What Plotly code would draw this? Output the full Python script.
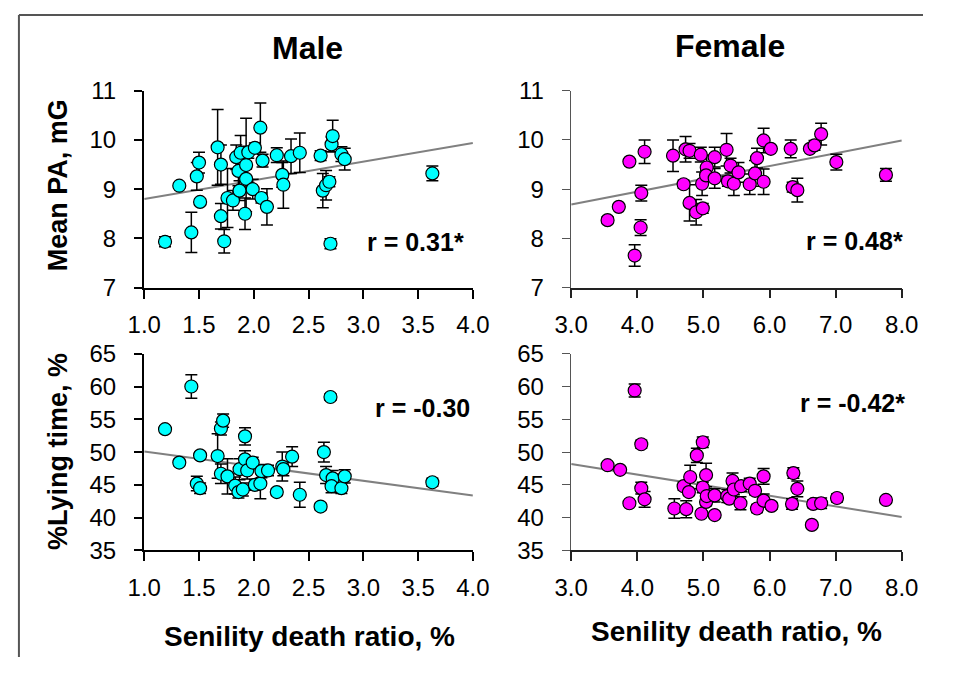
import plotly.graph_objects as go

# ---------------- data ----------------
male_pa_x = [1.19, 1.32, 1.43, 1.50, 1.48, 1.51, 1.67, 1.70, 1.70, 1.73, 1.76, 1.81, 1.84, 1.86,
             1.87, 1.88, 1.92, 1.93, 1.93, 1.95, 1.99, 2.01, 2.06, 2.08, 2.07, 2.12, 2.21, 2.26,
             2.27, 2.34, 2.42, 2.61, 2.63, 2.66, 2.69, 2.70, 2.71, 2.72, 2.80, 2.83, 3.63]
male_pa_y = [7.93, 9.07, 8.12, 9.54, 9.26, 8.74, 9.85, 9.50, 8.45, 7.94, 8.82, 8.77, 9.65, 9.37,
             8.97, 9.74, 8.50, 9.49, 9.21, 9.75, 9.00, 9.84, 10.25, 9.58, 8.82, 8.64, 9.69, 9.29,
             9.09, 9.67, 9.74, 9.68, 8.97, 9.08, 9.15, 7.89, 9.91, 10.08, 9.71, 9.61, 9.32]
male_pa_err = [0.10, 0.05, 0.41, 0.21, 0.28, 0.06, 0.77, 0.40, 0.26, 0.24, 0.60, 0.20, 0.25, 0.30,
               0.20, 0.35, 0.32, 0.95, 0.20, 0.12, 0.20, 0.10, 0.50, 0.13, 0.10, 0.37, 0.15, 0.25,
               0.48, 0.35, 0.40, 0.10, 0.35, 0.30, 0.10, 0.10, 0.15, 0.32, 0.15, 0.22, 0.15]

female_pa_x = [3.55, 3.72, 3.88, 4.11, 4.06, 4.05, 3.96, 4.54, 4.70, 4.73, 4.79, 4.79, 4.89, 4.96,
               4.99, 4.98, 5.05, 5.04, 5.17, 5.17, 5.35, 5.41, 5.37, 5.46, 5.53, 5.70, 5.78, 5.81,
               5.91, 5.91, 6.02, 6.32, 6.35, 6.42, 6.61, 6.68, 6.78, 7.01, 7.76]
female_pa_y = [8.37, 8.64, 9.56, 9.76, 8.92, 8.22, 7.65, 9.68, 9.10, 9.81, 9.78, 8.72, 8.53, 9.70,
               8.61, 9.11, 9.44, 9.28, 9.65, 9.22, 9.80, 9.48, 9.16, 9.11, 9.34, 9.10, 9.32, 9.63,
               9.15, 9.99, 9.82, 9.82, 9.04, 8.98, 9.82, 9.89, 10.12, 9.55, 9.29]
female_pa_err = [0.07, 0.05, 0.05, 0.24, 0.16, 0.16, 0.22, 0.32, 0.08, 0.26, 0.15, 0.37, 0.26, 0.15,
                 0.10, 0.24, 0.25, 0.10, 0.20, 0.20, 0.33, 0.15, 0.10, 0.24, 0.20, 0.21, 0.26, 0.20,
                 0.26, 0.25, 0.05, 0.18, 0.10, 0.24, 0.05, 0.10, 0.22, 0.16, 0.13]

male_ly_x = [1.19, 1.32, 1.43, 1.48, 1.51, 1.51, 1.67, 1.70, 1.72, 1.70, 1.76, 1.83, 1.86, 1.87,
             1.90, 1.92, 1.92, 1.94, 1.99, 2.01, 2.06, 2.07, 2.13, 2.21, 2.26, 2.27, 2.35, 2.42,
             2.61, 2.64, 2.66, 2.70, 2.72, 2.71, 2.80, 2.83, 3.63]
male_ly_y = [53.5, 48.4, 60.0, 45.2, 44.5, 49.5, 49.4, 53.6, 54.8, 46.7, 46.3, 44.9, 43.9, 47.4,
             44.3, 52.4, 48.9, 47.2, 48.4, 45.0, 45.2, 47.1, 47.2, 43.9, 47.8, 47.4, 49.3, 43.5,
             41.7, 50.0, 46.5, 58.4, 46.0, 44.8, 44.5, 46.3, 45.4]
male_ly_err = [0.5, 0.5, 1.8, 1.1, 0.8, 0.5, 3.4, 1.0, 1.0, 1.5, 2.7, 1.3, 0.9, 1.6,
               1.0, 1.3, 1.3, 1.3, 0.8, 0.8, 2.3, 1.0, 0.8, 0.5, 2.2, 1.0, 1.5, 1.9,
               0.5, 1.5, 1.3, 0.5, 1.2, 1.0, 0.8, 1.0, 0.6]

female_ly_x = [3.55, 3.74, 3.88, 3.96, 4.06, 4.06, 4.11, 4.56, 4.70, 4.74, 4.78, 4.80, 4.90, 4.99,
               4.99, 4.97, 5.04, 5.04, 5.05, 5.17, 5.17, 5.36, 5.39, 5.44, 5.46, 5.56, 5.57, 5.70,
               5.78, 5.81, 5.91, 5.91, 6.03, 6.34, 6.36, 6.42, 6.64, 6.66, 6.78, 7.02, 7.76]
female_ly_y = [48.0, 47.3, 42.2, 59.4, 51.2, 44.5, 42.8, 41.4, 44.8, 41.3, 43.9, 46.2, 49.5, 51.5,
               44.6, 40.6, 46.5, 42.4, 43.3, 43.4, 40.4, 43.3, 42.9, 45.6, 44.3, 42.2, 44.8, 45.2,
               44.1, 41.4, 46.3, 42.6, 41.8, 42.1, 46.8, 44.4, 38.9, 42.1, 42.2, 43.0, 42.7]
female_ly_err = [0.4, 0.4, 0.4, 1.0, 0.6, 0.9, 1.2, 1.5, 0.6, 1.3, 0.5, 1.8, 1.1, 0.8,
                 0.8, 0.4, 1.8, 0.6, 0.5, 1.0, 0.4, 1.0, 0.6, 1.2, 0.8, 1.0, 0.8, 0.8,
                 0.6, 0.6, 1.2, 1.0, 0.5, 0.8, 0.8, 1.2, 0.3, 0.6, 0.8, 0.6, 0.5]

# regression line end points
male_fit_x = [1.0, 4.0]
male_pa_fit = [8.80, 9.94]
male_ly_fit = [50.1, 43.4]
female_fit_x = [3.0, 8.0]
female_pa_fit = [8.69, 9.99]
female_ly_fit = [48.2, 40.1]

r_labels = ["r = 0.31*", "r = 0.48*", "r = -0.30", "r = -0.42*"]
panel_titles = ["Male", "Female"]
y_titles = ["Mean PA, mG", "%Lying time, %"]
x_title = "Senility death ratio, %"

# ---------------- figure ----------------
# The page body keeps its default 8 px margin; the figure is kept a little
# smaller than the window so that no scrollbar appears.
OFF = 8
W, H = 940, 670
FONT = "Liberation Sans, Arial, sans-serif"
CYAN = "#00FFFF"
MAGENTA = "#FF00FF"


def px(x):
    return (x - OFF) / W


def py(y):
    return 1 - (y - OFF) / H


fig = go.Figure()

panels = [
    ("x", "y", male_pa_x, male_pa_y, male_pa_err, CYAN, male_fit_x, male_pa_fit),
    ("x2", "y2", female_pa_x, female_pa_y, female_pa_err, MAGENTA, female_fit_x, female_pa_fit),
    ("x3", "y3", male_ly_x, male_ly_y, male_ly_err, CYAN, male_fit_x, male_ly_fit),
    ("x4", "y4", female_ly_x, female_ly_y, female_ly_err, MAGENTA, female_fit_x, female_ly_fit),
]

for xa, ya, xs, ys, es, col, fx, fy in panels:
    fig.add_trace(go.Scatter(
        x=fx, y=fy, mode="lines", xaxis=xa, yaxis=ya,
        line=dict(color="#808080", width=2), showlegend=False, hoverinfo="skip",
        cliponaxis=False))
    fig.add_trace(go.Scatter(
        x=xs, y=ys, mode="markers", xaxis=xa, yaxis=ya,
        marker=dict(size=13, color=col, line=dict(color="black", width=1.2)),
        error_y=dict(type="data", array=es, visible=True, color="black",
                     thickness=1.5, width=6),
        showlegend=False))

xdom_l = [px(140), px(481)]
xdom_r = [px(583), px(926)]
ydom_t = [py(293), py(88)]
ydom_b = [py(567), py(362)]

tickfont = dict(family=FONT, size=24, color="black")
NBSP2 = "\u00a0\u00a0"


def xaxis(dom, anchor, rng, dtick, lw, lc):
    return dict(domain=dom, anchor=anchor, range=rng, dtick=dtick, tick0=rng[0],
                tickformat=".1f", showline=True, linewidth=lw, linecolor=lc,
                ticks="outside", ticklen=9, tickwidth=lw, tickcolor=lc,
                ticklabelstandoff=6,
                showgrid=False, zeroline=False, tickfont=tickfont)


def yaxis(dom, anchor, rng, dtick, lw, lc):
    return dict(domain=dom, anchor=anchor, range=rng, dtick=dtick, tick0=rng[0],
                showline=True, linewidth=lw, linecolor=lc,
                ticks="outside", ticklen=8, tickwidth=lw, tickcolor=lc,
                ticksuffix=NBSP2,
                showgrid=False, zeroline=False, tickfont=tickfont)


fig.update_layout(
    width=W, height=H,
    margin=dict(l=0, r=0, t=0, b=0),
    paper_bgcolor="white", plot_bgcolor="white",
    font=dict(family=FONT, color="black"),
    xaxis=xaxis(xdom_l, "y", [1, 4], 0.5, 2, "black"),
    yaxis=yaxis(ydom_t, "x", [7, 11], 1, 2, "black"),
    xaxis2=xaxis(xdom_r, "y2", [3, 8], 1, 1.5, "#222"),
    yaxis2=yaxis(ydom_t, "x2", [7, 11], 1, 1.2, "#555"),
    xaxis3=xaxis(xdom_l, "y3", [1, 4], 0.5, 2, "black"),
    yaxis3=yaxis(ydom_b, "x3", [35, 65], 5, 2, "black"),
    xaxis4=xaxis(xdom_r, "y4", [3, 8], 1, 1.5, "#222"),
    yaxis4=yaxis(ydom_b, "x4", [35, 65], 5, 1.2, "#555"),
)

ann = []
bold = lambda s: "<b>" + s + "</b>"
ann.append(dict(x=px(309), y=py(43), text=bold(panel_titles[0]), font=dict(size=32)))
ann.append(dict(x=px(748), y=py(41), text=bold(panel_titles[1]), font=dict(size=32)))
ann.append(dict(x=px(50), y=py(186), text=bold(y_titles[0]), textangle=-90, font=dict(size=27)))
ann.append(dict(x=px(50), y=py(464), text=bold(y_titles[1]), textangle=-90, font=dict(size=27)))
ann.append(dict(x=px(311), y=py(657), text=bold(x_title), font=dict(size=28)))
ann.append(dict(x=px(754), y=py(651), text=bold(x_title), font=dict(size=28)))
ann.append(dict(x=px(474), y=py(246), text=bold(r_labels[0]), xanchor="right", font=dict(size=25)))
ann.append(dict(x=px(929), y=py(245), text=bold(r_labels[1]), xanchor="right", font=dict(size=25)))
ann.append(dict(x=px(480), y=py(419), text=bold(r_labels[2]), xanchor="right", font=dict(size=25)))
ann.append(dict(x=px(931), y=py(413), text=bold(r_labels[3]), xanchor="right", font=dict(size=25)))

for a in ann:
    a.setdefault("xanchor", "center")
    a["yanchor"] = "middle"
    a["xref"] = "paper"
    a["yref"] = "paper"
    a["showarrow"] = False
    a["font"].update(family=FONT, color="black")
fig.update_layout(annotations=ann)

# outer frame (top and left edges)
top_y = 1 - 1 / H
fig.add_shape(type="line", xref="paper", yref="paper", x0=px(10), x1=1.0, y0=top_y, y1=top_y,
              line=dict(color="#555", width=2))
fig.add_shape(type="line", xref="paper", yref="paper", x0=px(10), x1=px(10), y0=top_y, y1=0,
              line=dict(color="#555", width=2))

fig.write_html("out.html")
